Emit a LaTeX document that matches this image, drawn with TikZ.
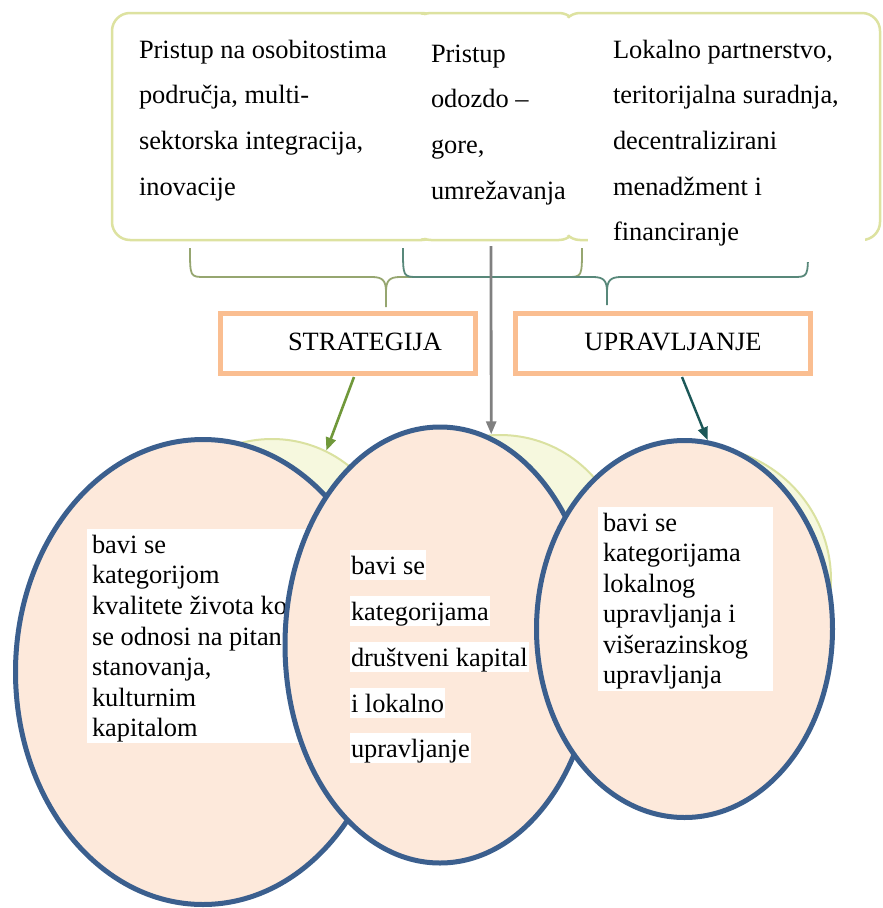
\documentclass[tikz,border=0pt]{standalone}
\usepackage{fontspec}
\setmainfont{Liberation Serif}
\usetikzlibrary{arrows.meta,shapes.geometric}
\definecolor{boxline}{RGB}{221,226,160}
\definecolor{braceA}{RGB}{150,166,112}
\definecolor{braceB}{RGB}{88,136,122}
\definecolor{peach}{RGB}{250,190,145}
\definecolor{ellline}{RGB}{59,95,142}
\definecolor{ellfill}{RGB}{253,233,219}
\definecolor{ylwfill}{RGB}{246,248,222}
\definecolor{ylwline}{RGB}{218,225,160}
\definecolor{arrgreen}{RGB}{112,152,58}
\definecolor{arrgray}{RGB}{128,128,128}
\definecolor{arrteal}{RGB}{28,88,88}
\begin{document}
\begin{tikzpicture}[x=1pt,y=-1pt,
  txt/.style={anchor=base west, inner sep=0pt, outer sep=0pt, font=\fontsize{26.4pt}{30pt}\selectfont},
  linebg/.style={txt, fill=white, inner xsep=1pt, inner ysep=0pt, text height=24pt, text depth=5.5pt},
  blockbg/.style={rectangle, fill=white, inner sep=0pt, anchor=north west},
  topbox/.style={rectangle, draw=boxline, line width=2.5pt, fill=white, rounded corners=18pt, minimum height=227pt, inner sep=0pt},
  orangebox/.style={rectangle, draw=peach, line width=5pt, fill=white, minimum height=60pt, inner sep=0pt, text height=18pt, text depth=5pt, font=\fontsize{26.4pt}{30pt}\selectfont},
  ell/.style={ellipse, draw=ellline, line width=5pt, fill=ellfill, inner sep=0pt},
  ylw/.style={circle, draw=ylwline, line width=2pt, fill=ylwfill, inner sep=0pt},
  brA/.style={draw=braceA, line width=1.8pt},
  brB/.style={draw=braceB, line width=1.8pt},
  conn/.style={-{Triangle[length=13pt,width=10pt]}, line width=2.6pt}
]
\useasboundingbox (0,0) rectangle (883,908);
\fill[white] (0,0) rectangle (883,908);

% top boxes
\node[topbox, minimum width=328pt] (boxA) at (276,126.5) {};
\node[topbox, minimum width=164pt] (boxB) at (495,126.5) {};
\node[topbox, minimum width=318pt] (boxC) at (721,126.5) {};
\fill[white, rounded corners=16.5pt] (114,15) rectangle (438,238);
\fill[white, rounded corners=16.5pt] (415,15) rectangle (575,238);
\fill[white, rounded corners=16.5pt] (564,15) rectangle (878,238);

% braces
\coordinate (tipA) at (386,307);
\coordinate (tipB) at (607,305);
\draw[brA] (190,248) .. controls (190,277) and (190,277) .. (205,277) -- (372,277) .. controls (383,277) and (386,281) .. (386,292) -- (tipA);
\draw[brA] (582,248) .. controls (582,277) and (582,277) .. (567,277) -- (400,277) .. controls (389,277) and (386,281) .. (386,292);
\draw[brB] (403,248) .. controls (403,277) and (403,277) .. (418,277) -- (593,277) .. controls (604,277) and (607,281) .. (607,292) -- (tipB);
\draw[brB] (808,248) .. controls (808,277) and (808,277) .. (793,277) -- (621,277) .. controls (610,277) and (607,281) .. (607,292);

% top texts
\node[blockbg, minimum width=277pt, minimum height=232pt] (bgC) at (588,30) {};
\node[txt] (a1) at (139,58.3) {Pristup na osobitostima};
\node[txt] (a2) at (139,103.5) {područja, multi-};
\node[txt] (a3) at (139,149.3) {sektorska integracija,};
\node[txt] (a4) at (139,195) {inovacije};
\node[txt] (b1) at (431,62.3) {Pristup};
\node[txt] (b2) at (431,107.5) {odozdo –};
\node[txt] (b3) at (431,153.3) {gore,};
\node[txt] (b4) at (431,199) {umrežavanja};
\node[txt] (c1) at (613,58.3) {Lokalno partnerstvo,};
\node[txt] (c2) at (613,103.5) {teritorijalna suradnja,};
\node[txt] (c3) at (613,149.3) {decentralizirani};
\node[txt] (c4) at (613,195) {menadžment i};
\node[txt] (c5) at (613,240.7) {financiranje};

% orange boxes
\node[orangebox, minimum width=255pt] (strat) at (348,343.5) {\hspace*{34pt}STRATEGIJA};
\node[orangebox, minimum width=295pt] (uprav) at (663,343.5) {\hspace*{20pt}UPRAVLJANJE};

% yellow circles
\node[ylw, minimum size=246pt] (y1) at (272,562) {};
\node[ylw, minimum size=250pt] (y2) at (500,560) {};
\node[ylw, minimum size=268pt] (y3) at (697,580) {};

% ellipse 1
\node[ell, minimum width=375pt, minimum height=465pt] (e1) at (203,672) {};
\node[blockbg, minimum width=243pt, minimum height=214pt] (bg1) at (87,529) {};
\node[txt] (t11) at (92,553.3) {bavi se};
\node[txt] (t12) at (92,583.9) {kategorijom};
\node[txt] (t13) at (92,614.5) {kvalitete života ko};
\node[txt] (t14) at (92,645.1) {se odnosi na pitan};
\node[txt] (t15) at (92,675.7) {stanovanja,};
\node[txt] (t16) at (92,706.3) {kulturnim};
\node[txt] (t17) at (92,736.9) {kapitalom};

% ellipse 2
\node[ell, minimum width=310pt, minimum height=436pt] (e2) at (440,645) {};
\node[linebg] (t21) at (350,574) {bavi se};
\node[linebg] (t22) at (350,620) {kategorijama};
\node[linebg] (t23) at (350,666) {društveni kapital};
\node[linebg] (t24) at (350,712) {i lokalno};
\node[linebg] (t25) at (350,757) {upravljanje};

% ellipse 3
\node[ell, minimum width=296pt, minimum height=377pt] (e3) at (684.5,629) {};
\node[blockbg, minimum width=175pt, minimum height=184pt] (bg3) at (598,507) {};
\node[txt] (t31) at (603,531) {bavi se};
\node[txt] (t32) at (603,561.5) {kategorijama};
\node[txt] (t33) at (603,592) {lokalnog};
\node[txt] (t34) at (603,622.5) {upravljanja i};
\node[txt] (t35) at (603,653) {višerazinskog};
\node[txt] (t36) at (603,683.5) {upravljanja};

% arrows
\coordinate (gA) at (354,377);
\coordinate (gB) at (491,246);
\coordinate (gC) at (682,377);
\draw[conn, arrgreen] (gA) -- (y1.64);
\draw[conn, arrgray, line width=2.8pt] (gB) -- (y2.94);
\draw[conn, arrteal, line width=2.4pt] (gC) -- (e3.83);
\end{tikzpicture}
\end{document}
